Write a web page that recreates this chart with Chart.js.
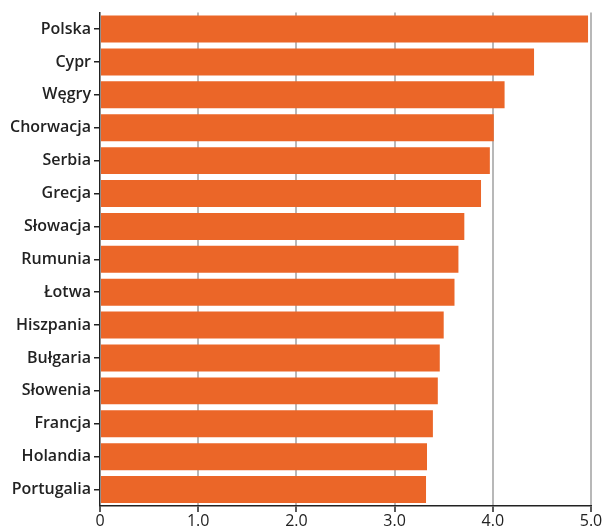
<!DOCTYPE html>
<html>
<head>
<meta charset="utf-8">
<script src="https://cdn.jsdelivr.net/npm/chart.js@4/dist/chart.umd.min.js"></script>
<style>
  body { margin: 0; background: #fff; }
</style>
</head>
<body>
<canvas id="wykres" width="603" height="527"></canvas>
<script>
// kraje i wartosci
const kraje = ["Polska", "Cypr", "Węgry", "Chorwacja", "Serbia", "Grecja", "Słowacja", "Rumunia",
  "Łotwa", "Hiszpania", "Bułgaria", "Słowenia", "Francja", "Holandia", "Portugalia"];
const wartosci = [4.97, 4.42, 4.12, 4.01, 3.97, 3.88, 3.71, 3.65, 3.61, 3.50, 3.46, 3.44, 3.39, 3.33, 3.32];
const osX = [0, 1, 2, 3, 4, 5];

const pomarancz = "#eb6628";

new Chart(document.getElementById("wykres"), {
  type: "bar",
  data: {
    labels: kraje,
    datasets: [
      {
        data: wartosci,
        backgroundColor: pomarancz,
        borderWidth: 0,
        barPercentage: 1,
        categoryPercentage: 0.82,
      },
    ],
  },
  options: {
    indexAxis: "y",
    responsive: false,
    animation: false,
    layout: { padding: { left: 0, right: 12, top: 10, bottom: 0 } },
    plugins: {
      legend: { display: false },
      tooltip: { enabled: false },
    },
    scales: {
      x: {
        min: osX[0],
        max: osX[osX.length - 1],
        afterBuildTicks: (scale) => {
          scale.ticks = osX.map((v) => ({ value: v }));
        },
        afterFit: (scale) => {
          scale.height = 21;
        },
        ticks: {
          color: "#222",
          font: { family: "Open Sans", size: 16, weight: "500" },
          padding: 0,
          maxRotation: 0,
          callback: (v) => (v === 0 ? "0" : v.toFixed(1)),
        },
        grid: {
          color: (ctx) => (ctx.tick && ctx.tick.value === 0 ? "rgba(0,0,0,0)" : "#b8b8b8"),
          lineWidth: 2,
          tickColor: "#222",
          tickLength: 6,
          tickWidth: 1.5,
        },
        border: { display: true, color: "#222", width: 1.5 },
      },
      y: {
        afterFit: (scale) => {
          scale.width = 100;
        },
        ticks: {
          color: "#222",
          font: { family: "Open Sans", size: 16, weight: "600" },
          padding: 3,
        },
        grid: {
          offset: false,
          drawOnChartArea: false,
          color: "#222",
          tickLength: 6,
          lineWidth: 1.5,
        },
        border: { display: true, color: "#222", width: 1.5 },
      },
    },
  },
});
</script>
</body>
</html>
